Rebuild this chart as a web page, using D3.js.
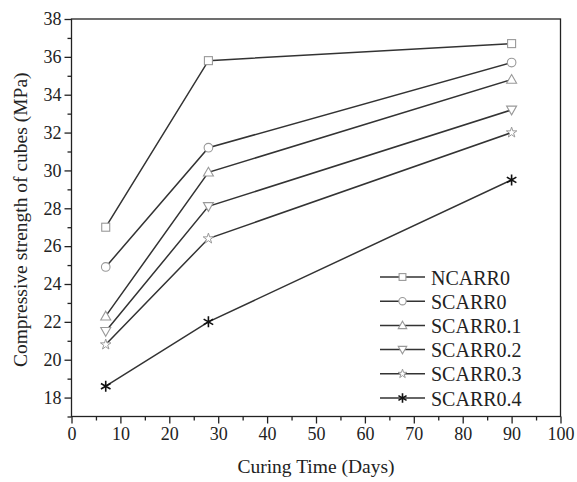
<!DOCTYPE html>
<html><head><meta charset="utf-8">
<script src="https://cdn.jsdelivr.net/npm/d3@7"></script>
<style>body{margin:0;background:#fff}svg{display:block}text{font-family:"Liberation Serif","Times New Roman",Times,"Nimbus Roman","DejaVu Serif",serif !important;fill:#222}</style>
</head><body>
<svg id="c" width="577" height="482"></svg>
<script>
const days = [7, 28, 90];
const seriesNames = ["NCARR0","SCARR0","SCARR0.1","SCARR0.2","SCARR0.3","SCARR0.4"];
const NCARR0 = [27.0, 35.8, 36.7];
const SCARR0 = [24.9, 31.2, 35.7];
const SCARR01 = [22.3, 29.9, 34.8];
const SCARR02 = [21.5, 28.1, 33.2];
const SCARR03 = [20.8, 26.4, 32.0];
const SCARR04 = [18.6, 22.0, 29.5];
const seriesValues = [NCARR0, SCARR0, SCARR01, SCARR02, SCARR03, SCARR04];
const markerTypes = ["square","circle","triangle","tridown","star","asterisk"];
const xTicks = [0,10,20,30,40,50,60,70,80,90,100];
const yTicks = [18,20,22,24,26,28,30,32,34,36,38];

const svg = d3.select("#c");
const L = 71.5, R = 560.5, T = 19, B = 416.5;
const x = d3.scaleLinear().domain([0,100]).range([L,R]);
const y = d3.scaleLinear().domain([17,38]).range([B,T]);

svg.append("rect").attr("x",L).attr("y",T).attr("width",R-L).attr("height",B-T)
  .attr("fill","none").attr("stroke","#222").attr("stroke-width",1.3);

const xa = svg.append("g").attr("transform",`translate(0,${B})`)
  .call(d3.axisBottom(x).tickValues(xTicks).tickSize(7).tickPadding(4).tickFormat(d3.format("d")));
xa.select(".domain").remove();
xa.selectAll("line").attr("stroke","#222").attr("stroke-width",1.3);
xa.selectAll("text").style("font-size","18px").attr("fill","#222");
svg.append("g").attr("transform",`translate(0,${B})`)
  .call(d3.axisBottom(x).tickValues(d3.range(5,100,10)).tickSize(4).tickFormat(""))
  .call(g=>{g.select(".domain").remove();g.selectAll("line").attr("stroke","#222").attr("stroke-width",1.3);});

const ya = svg.append("g").attr("transform",`translate(${L},0)`)
  .call(d3.axisLeft(y).tickValues(yTicks).tickSize(7).tickPadding(3).tickFormat(d3.format("d")));
ya.select(".domain").remove();
ya.selectAll("line").attr("stroke","#222").attr("stroke-width",1.3);
ya.selectAll("text").style("font-size","18px").attr("fill","#222");
svg.append("g").attr("transform",`translate(${L},0)`)
  .call(d3.axisLeft(y).tickValues(d3.range(17,38,2)).tickSize(4).tickFormat(""))
  .call(g=>{g.select(".domain").remove();g.selectAll("line").attr("stroke","#222").attr("stroke-width",1.3);});

svg.append("text").attr("x",(L+R)/2).attr("y",473).attr("text-anchor","middle")
  .style("font-size","19.5px").text("Curing Time (Days)");
svg.append("text").attr("transform",`translate(27,${(T+B)/2+2}) rotate(-90)`).attr("text-anchor","middle")
  .style("font-size","19.5px").text("Compressive strength of cubes (MPa)");

function drawMarker(g, type, cx, cy, sc){
  sc = sc || 1;
  const s = 4*sc;
  const st = "#999";
  if(type==="square"){
    g.append("rect").attr("x",cx-s).attr("y",cy-s).attr("width",2*s).attr("height",2*s)
      .attr("fill","#fff").attr("stroke",st).attr("stroke-width",1.1);
  } else if(type==="circle"){
    g.append("circle").attr("cx",cx).attr("cy",cy).attr("r",4.3*sc)
      .attr("fill","#fff").attr("stroke",st).attr("stroke-width",1.1);
  } else if(type==="triangle"){
    const a=5*sc;
    g.append("path").attr("d",`M${cx},${cy-a}L${cx+a},${cy+a*0.75}L${cx-a},${cy+a*0.75}Z`)
      .attr("fill","#fff").attr("stroke",st).attr("stroke-width",1.1);
  } else if(type==="tridown"){
    const a=5*sc;
    g.append("path").attr("d",`M${cx},${cy+a}L${cx+a},${cy-a*0.75}L${cx-a},${cy-a*0.75}Z`)
      .attr("fill","#fff").attr("stroke",st).attr("stroke-width",1.1);
  } else if(type==="star"){
    g.append("path").attr("d",d3.symbol(d3.symbolStar,34*sc*sc)()).attr("transform",`translate(${cx},${cy})`)
      .attr("fill","#fff").attr("stroke",st).attr("stroke-width",1.0);
  } else {
    const a = 5.5*sc;
    const p = [[0,-a],[0,a],[-a*0.87,-a*0.5],[a*0.87,a*0.5],[-a*0.87,a*0.5],[a*0.87,-a*0.5]];
    g.append("path").attr("d",`M${cx+p[0][0]},${cy+p[0][1]}L${cx+p[1][0]},${cy+p[1][1]}M${cx+p[2][0]},${cy+p[2][1]}L${cx+p[3][0]},${cy+p[3][1]}M${cx+p[4][0]},${cy+p[4][1]}L${cx+p[5][0]},${cy+p[5][1]}`)
      .attr("stroke","#111").attr("stroke-width",1.6).attr("fill","none");
  }
}

const line = d3.line().x((d,i)=>x(days[i])).y(d=>y(d));
seriesValues.forEach((vals,k)=>{
  const g = svg.append("g");
  g.append("path").attr("d",line(vals)).attr("fill","none").attr("stroke","#333").attr("stroke-width",1.5);
  vals.forEach((v,i)=>drawMarker(g, markerTypes[k], x(days[i]), y(v), 1));
});

const lg = svg.append("g");
seriesNames.forEach((n,k)=>{
  const yy = 277 + k*24.2;
  lg.append("line").attr("x1",380).attr("x2",425).attr("y1",yy).attr("y2",yy).attr("stroke","#333").attr("stroke-width",1.5);
  drawMarker(lg, markerTypes[k], 402.5, yy, 0.85);
  lg.append("text").attr("x",431).attr("y",yy+7.5).style("font-size","20px").text(n);
});
</script>
</body></html>
